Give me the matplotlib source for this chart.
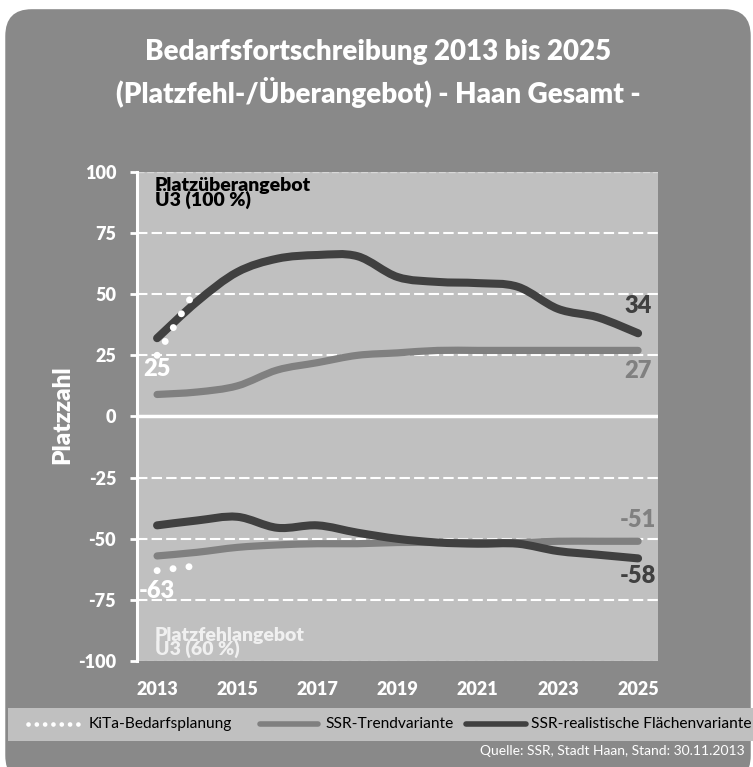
import numpy as np
import matplotlib
matplotlib.use("Agg")
import matplotlib.pyplot as plt
from matplotlib.path import Path
from matplotlib.patches import PathPatch, FancyBboxPatch, Rectangle
from matplotlib.lines import Line2D

plt.rcParams['font.family'] = ['Lato', 'DejaVu Sans']

# %% data
years = list(range(2013, 2026))
kita_years = [2013, 2014]
kita_upper = [25, 53]
kita_lower = [-63, -61]
trend_upper = [9, 10, 12.5, 19, 22, 25, 26, 27, 27, 27, 27, 27, 27]
trend_lower = [-57, -55.5, -53.5, -52.5, -52, -52, -51.5, -51.5, -51.5, -51.5, -51, -51, -51]
real_upper = [32, 47, 59, 64.5, 66, 65.5, 57, 55, 54.5, 53, 44, 40.5, 34]
real_lower = [-44.5, -42.5, -41, -45.5, -44.5, -47.5, -50, -51.5, -52, -52, -55, -56.5, -58]
xtick_years = [2013, 2015, 2017, 2019, 2021, 2023, 2025]
yticks = [-100, -75, -50, -25, 0, 25, 50, 75, 100]
legend_names = ["KiTa-Bedarfsplanung", "SSR-Trendvariante", "SSR-realistische Flächenvariante"]

PANEL = '#898989'
PLOTBG = '#c0c0c0'
DARK = '#404040'
GREY = '#808080'
W, H = 753, 767


def smooth_path(xs, ys):
    """Excel-like smoothed line: cubic bezier through every point."""
    pts = np.column_stack([np.asarray(xs, float), np.asarray(ys, float)])
    n = len(pts)
    verts, codes = [pts[0]], [Path.MOVETO]
    for i in range(n - 1):
        p0, p1 = pts[max(i - 1, 0)], pts[i]
        p2, p3 = pts[i + 1], pts[min(i + 2, n - 1)]
        verts += [p1 + (p2 - p0) / 6, p2 - (p3 - p1) / 6, p2]
        codes += [Path.CURVE4] * 3
    return Path(verts, codes)


fig = plt.figure(figsize=(W / 100, H / 100), dpi=100)
fig.patch.set_facecolor('white')

# rounded grey panel behind everything
panel = FancyBboxPatch((0.007, -0.02), 0.99, 1.008, transform=fig.transFigure,
                       boxstyle="round,pad=0,rounding_size=0.035",
                       facecolor=PANEL, edgecolor='none', zorder=-2)
fig.patches.append(panel)
# legend band
fig.patches.append(Rectangle((0.011, 0.034), 0.99, 0.043, transform=fig.transFigure,
                             facecolor=PLOTBG, edgecolor='none', zorder=-1))

ax = fig.add_axes([0.182, 0.138, 0.692, 0.638])
ax.set_zorder(1)
ax.set_facecolor(PLOTBG)
ax.set_xlim(2012.5, 2025.5)
ax.set_ylim(-100, 100)

for v in [-75, -50, -25, 25, 50, 75]:
    ax.axhline(v, color='white', lw=1.5, ls=(0, (5, 2)), zorder=1)
for v in [-100, 100]:
    ax.axhline(v, color='#d8d8d8', lw=1, ls=(0, (5, 2)), zorder=1)
ax.axhline(0, color='white', lw=2.5, zorder=1)

for vals, col, lw in [(trend_upper, GREY, 5.2), (trend_lower, GREY, 5.2),
                      (real_upper, DARK, 5.8), (real_lower, DARK, 5.8)]:
    ax.add_patch(PathPatch(smooth_path(years, vals), fill=False, edgecolor=col,
                           lw=lw, capstyle='round', joinstyle='round', zorder=3))

for vals in [kita_upper, kita_lower]:
    ax.plot(kita_years, vals, color='white', lw=5, ls=(0, (0.01, 2.3)),
            dash_capstyle='round', zorder=4)

for s in ['top', 'right', 'bottom']:
    ax.spines[s].set_visible(False)
ax.spines['left'].set_color('white')
ax.spines['left'].set_linewidth(2.2)

ax.set_yticks(yticks)
ax.set_yticklabels([str(v) for v in yticks])
ax.set_xticks(xtick_years)
ax.set_xticklabels([str(v) for v in xtick_years])
ax.tick_params(axis='y', colors='white', length=5, width=2, direction='out', pad=10,
               labelsize=13)
ax.tick_params(axis='x', colors='white', length=0, pad=14, labelsize=13)
for lab in ax.get_xticklabels() + ax.get_yticklabels():
    lab.set_fontweight('heavy')

# data labels
lbl = dict(ha='center', va='center', fontsize=17, fontweight='heavy',
           textcoords='offset points')
ax.annotate(str(kita_upper[0]), (kita_years[0], kita_upper[0]), xytext=(0, -10), color='white', **lbl)
ax.annotate(str(kita_lower[0]), (kita_years[0], kita_lower[0]), xytext=(0, -15), color='white', **lbl)
ax.annotate(str(real_upper[-1]), (years[-1], real_upper[-1]), xytext=(0, 20), color=DARK, **lbl)
ax.annotate(str(trend_upper[-1]), (years[-1], trend_upper[-1]), xytext=(0, -15), color=GREY, **lbl)
ax.annotate(str(trend_lower[-1]), (years[-1], trend_lower[-1]), xytext=(0, 15), color=GREY, **lbl)
ax.annotate(str(real_lower[-1]), (years[-1], real_lower[-1]), xytext=(0, -13), color=DARK, **lbl)

ax.text(2012.95, 98, "Platzüberangebot\nÜ3 (100 %)", ha='left', va='top',
        fontsize=14, fontweight='heavy', color='black', linespacing=0.72, zorder=5)
ax.text(2012.95, -86, "Platzfehlangebot\nU3 (60 %)", ha='left', va='top',
        fontsize=14, fontweight='heavy', color='#f0f0f0', linespacing=0.72, zorder=5)

# titles and axis title
fig.text(0.502, 1 - 52 / H, "Bedarfsfortschreibung 2013 bis 2025", ha='center', va='center',
         color='white', fontsize=20, fontweight='heavy')
fig.text(0.502, 1 - 92 / H, "(Platzfehl-/Überangebot) - Haan Gesamt -", ha='center', va='center',
         color='white', fontsize=20, fontweight='heavy')
fig.text(62 / W, 1 - 415 / H, "Platzzahl", rotation=90, ha='center', va='center',
         color='white', fontsize=17.5, fontweight='heavy')

# legend, laid out by hand along the band
leg_y = 1 - 724 / H
samples = [
    dict(color='white', lw=3.4, ls=(0, (0.01, 1.75)), dash_capstyle='round'),
    dict(color=GREY, lw=4, solid_capstyle='round'),
    dict(color=DARK, lw=4, solid_capstyle='round'),
]
sample_x = [(28, 82), (260, 318), (466, 526)]
text_x = [89, 325, 531]
for name, style, (x0, x1), tx in zip(legend_names, samples, sample_x, text_x):
    fig.add_artist(Line2D([x0 / W, x1 / W], [leg_y, leg_y], transform=fig.transFigure, **style))
    fig.text(tx / W, leg_y, name, ha='left', va='center', color='black', fontsize=11.2)

fig.text(745 / W, 1 - 751 / H, "Quelle: SSR, Stadt Haan, Stand: 30.11.2013", ha='right',
         va='center', color='white', fontsize=10)

fig.savefig("out.png", dpi=100, facecolor=fig.get_facecolor())
